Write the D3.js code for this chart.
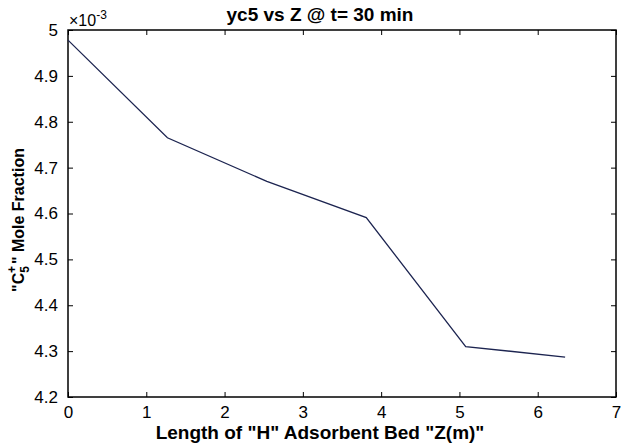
<!DOCTYPE html>
<html>
<head>
<meta charset="utf-8">
<title>yc5 vs Z</title>
<script src="https://d3js.org/d3.v7.min.js"></script>
<style>
  body { margin: 0; background: #fff; }
  text { font-family: "Liberation Sans", Arial, sans-serif; }
</style>
</head>
<body>
<div id="chart"></div>
<script>
// bed length (m) and C5+ mole fraction (x 1e-3)
const zValues = [0, 1.27, 2.54, 3.81, 5.08, 6.35];
const yValues = [4.978, 4.765, 4.670, 4.591, 4.310, 4.287];
const xTicks = [0, 1, 2, 3, 4, 5, 6, 7];
const yTicks = [4.2, 4.3, 4.4, 4.5, 4.6, 4.7, 4.8, 4.9, 5];

const w = 630, h = 445;
const m = { left: 68, right: 14, top: 30, bottom: 48 };

const svg = d3.select("#chart").append("svg")
  .attr("width", w).attr("height", h);

const x = d3.scaleLinear().domain([0, 7]).range([m.left, w - m.right]);
const y = d3.scaleLinear().domain([4.2, 5]).range([h - m.bottom, m.top]);

// box
svg.append("rect")
  .attr("x", m.left).attr("y", m.top)
  .attr("width", w - m.left - m.right).attr("height", h - m.top - m.bottom)
  .attr("fill", "none").attr("stroke", "#000").attr("stroke-width", 1.5);

const fmtY = d => d === 5 ? "5" : d.toFixed(1);

// bottom axis, ticks inward
svg.append("g")
  .attr("transform", `translate(0,${h - m.bottom})`)
  .call(d3.axisBottom(x).tickValues(xTicks).tickSizeInner(-5).tickSizeOuter(0).tickPadding(9).tickFormat(d3.format("d")));
// top ticks
svg.append("g")
  .attr("transform", `translate(0,${m.top})`)
  .call(d3.axisTop(x).tickValues(xTicks).tickSizeInner(-5).tickSizeOuter(0).tickFormat(""));
// left axis
svg.append("g")
  .attr("transform", `translate(${m.left},0)`)
  .call(d3.axisLeft(y).tickValues(yTicks).tickSizeInner(-5).tickSizeOuter(0).tickPadding(10).tickFormat(fmtY));
// right ticks
svg.append("g")
  .attr("transform", `translate(${w - m.right},0)`)
  .call(d3.axisRight(y).tickValues(yTicks).tickSizeInner(-5).tickSizeOuter(0).tickFormat(""));

svg.selectAll(".domain").remove();
svg.selectAll(".tick line").attr("stroke", "#000");
svg.selectAll(".tick text")
  .attr("fill", "#000")
  .style("font-size", "17px");

// exponent label
const ex = svg.append("text")
  .attr("x", m.left + 1).attr("y", m.top - 4)
  .style("font-size", "16px");
ex.append("tspan").text("\u00d710");
ex.append("tspan").attr("dy", -7).style("font-size", "12px").text("-3");

// line
const line = d3.line()
  .x((d, i) => x(zValues[i]))
  .y(d => y(d));
svg.append("path")
  .datum(yValues)
  .attr("d", line)
  .attr("fill", "none")
  .attr("stroke", "#1c2450")
  .attr("stroke-width", 1.3);

// title (centred on the figure, not the axes)
svg.append("text")
  .attr("x", 320).attr("y", m.top - 9)
  .attr("text-anchor", "middle")
  .style("font-size", "19px").style("font-weight", "bold")
  .text("yc5 vs Z @ t= 30 min");

// x label
svg.append("text")
  .attr("x", 320).attr("y", h - 6)
  .attr("text-anchor", "middle")
  .style("font-size", "19px").style("font-weight", "bold")
  .text('Length of "H" Adsorbent Bed "Z(m)"');

// y label
const yl = svg.append("text")
  .attr("transform", "translate(24,220) rotate(-90)")
  .attr("text-anchor", "middle")
  .style("font-size", "16px").style("font-weight", "bold");
yl.append("tspan").text('"C');
yl.append("tspan").attr("dy", 5).style("font-size", "12px").text("5");
yl.append("tspan").attr("dy", -13).attr("dx", -7).style("font-size", "12px").text("+");
yl.append("tspan").attr("dy", 8).attr("dx", 2).text('" Mole Fraction');
</script>
</body>
</html>
